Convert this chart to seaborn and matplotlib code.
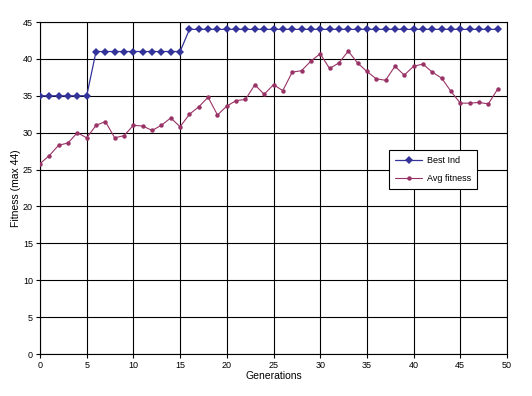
import matplotlib
matplotlib.use("Agg")
import matplotlib.pyplot as plt
import seaborn as sns
import pandas as pd

generations = list(range(50))
best_ind = [35]*6 + [41]*10 + [44]*34
avg_fitness = [25.8, 26.9, 28.3, 28.6, 30.0, 29.3, 31.0, 31.5, 29.3, 29.6,
               31.0, 30.9, 30.3, 31.0, 32.0, 30.8, 32.5, 33.5, 34.8, 32.4,
               33.6, 34.35, 34.5, 36.5, 35.2, 36.5, 35.7, 38.2, 38.4, 39.7,
               40.7, 38.7, 39.45, 41.05, 39.45, 38.3, 37.3, 37.1, 39.0, 37.8,
               39.0, 39.3, 38.2, 37.4, 35.6, 34.0, 34.0, 34.1, 33.9, 35.9]
x_ticks = list(range(0, 51, 5))
y_ticks = list(range(0, 46, 5))

sns.set_style("white")
plt.rcParams['font.family'] = ['Liberation Sans', 'DejaVu Sans']
plt.rcParams['text.color'] = 'black'
plt.rcParams['axes.labelcolor'] = 'black'
plt.rcParams['xtick.color'] = 'black'
plt.rcParams['ytick.color'] = 'black'

df = pd.DataFrame({"Generation": generations, "Best Ind": best_ind, "Avg fitness": avg_fitness})

fig = plt.figure(figsize=(5.32, 3.96), dpi=100)
ax = fig.add_axes([40/532, 42/396, 467/532, 332/396])

sns.lineplot(data=df, x="Generation", y="Best Ind", ax=ax, color="#333399",
             marker="D", markersize=4.5, markeredgewidth=0, linewidth=0.9,
             label="Best Ind", zorder=4)
sns.lineplot(data=df, x="Generation", y="Avg fitness", ax=ax, color="#993366",
             marker="o", markersize=3.2, markeredgewidth=0, linewidth=0.8,
             label="Avg fitness", zorder=3)

ax.set_xlim(0, 50)
ax.set_ylim(0, 45)
ax.set_xticks(x_ticks)
ax.set_yticks(y_ticks)
ax.grid(True, color="black", linewidth=0.8)
ax.set_axisbelow(True)
for s in ax.spines.values():
    s.set_visible(True)
    s.set_color("black")
    s.set_linewidth(0.8)
ax.tick_params(axis="both", direction="out", length=3, width=0.8, color="black",
               labelcolor="black", labelsize=6.5, pad=2, bottom=True, left=True)
ax.set_xlabel("Generations", fontsize=7.5, labelpad=1, color="black")
ax.set_ylabel("Fitness (max 44)", fontsize=7.5, labelpad=1.5, color="black")

leg = ax.legend(loc="upper left", bbox_to_anchor=(0.747, 0.614), fontsize=6.5,
                frameon=True, fancybox=False, edgecolor="black", framealpha=1,
                borderpad=0.7, labelspacing=0.95, handlelength=3.0,
                handletextpad=0.5, borderaxespad=0)
leg.get_frame().set_linewidth(0.8)
for t in leg.get_texts():
    t.set_color("black")

fig.savefig("out.png", dpi=100)
